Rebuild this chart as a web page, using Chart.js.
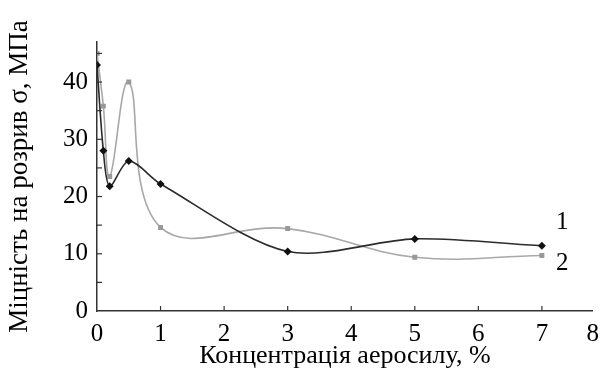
<!DOCTYPE html>
<html>
<head>
<meta charset="utf-8">
<script src="https://cdn.jsdelivr.net/npm/chart.js@4/dist/chart.umd.min.js"></script>
<style>
  html, body { margin: 0; padding: 0; background: #fff; }
</style>
</head>
<body>
<canvas id="chart" width="607" height="374"></canvas>
<script>
// concentration of aerosil, %
const conc = [0, 0.1, 0.2, 0.5, 1, 3, 5, 7];
// tensile strength, MPa
const series1 = [43, 28, 21.8, 26.2, 22.2, 10.4, 12.6, 11.4];
const series2 = [45, 35.8, 23.5, 40, 14.6, 14.4, 9.4, 9.7];
const seriesNames = ["1", "2"];
const xTicks = [0, 1, 2, 3, 4, 5, 6, 7, 8];
const yTicks = [0, 10, 20, 30, 40];

const FONT = "'Liberation Serif', 'Times New Roman', serif";
const X_MAX = 7.8; // axis is cut just before 8

function pts(ys){
    return conc.map(function(x, i){ return {x: x, y: ys[i]}; });
}

// inward tick marks and curve numbers
const extras = {
    id: "extras",
    afterDraw: function(chart){
        const c = chart.ctx;
        const xs = chart.scales.x;
        const ys = chart.scales.y;
        const area = chart.chartArea;
        c.save();
        c.strokeStyle = "#333";
        c.lineWidth = 1.2;
        xTicks.forEach(function(v){
            if(v <= 0 || v > X_MAX){ return; }
            const px = xs.getPixelForValue(v);
            c.beginPath();
            c.moveTo(px, area.bottom);
            c.lineTo(px, area.bottom - 5);
            c.stroke();
        });
        for(let v = 5; v <= 45; v += 5){
            const py = ys.getPixelForValue(v);
            c.beginPath();
            c.moveTo(area.left, py);
            c.lineTo(area.left + 5, py);
            c.stroke();
        }
        c.fillStyle = "#000";
        c.font = "25px " + FONT;
        c.textAlign = "left";
        c.textBaseline = "middle";
        const offs = [[14, -23], [14, 8]];
        chart.data.datasets.forEach(function(ds, i){
            const meta = chart.getDatasetMeta(i);
            const last = meta.data[meta.data.length - 1];
            c.fillText(seriesNames[i], last.x + offs[i][0], last.y + offs[i][1]);
        });
        c.restore();
    }
};

new Chart(
    document.getElementById("chart").getContext("2d"),
    {
        type: "line",
        data: {
            datasets: [
                {
                    label: seriesNames[0],
                    data: pts(series1),
                    borderColor: "#2b2b2b",
                    backgroundColor: "#111",
                    borderWidth: 1.6,
                    pointStyle: "rectRot",
                    pointRadius: 4,
                    pointBorderWidth: 0,
                    tension: 0.3
                },
                {
                    label: seriesNames[1],
                    data: pts(series2),
                    borderColor: "#a8a8a8",
                    backgroundColor: "#999",
                    borderWidth: 1.6,
                    pointStyle: "rect",
                    pointRadius: 3.5,
                    pointBorderWidth: 0,
                    tension: 0.4
                }
            ]
        },
        options: {
            responsive: false,
            animation: false,
            layout: { padding: { left: 0, right: 10, top: 42, bottom: 0 } },
            plugins: {
                legend: { display: false },
                tooltip: { enabled: false }
            },
            scales: {
                x: {
                    type: "linear",
                    min: 0,
                    max: X_MAX,
                    afterFit: function(s){ s.height = 63; },
                    afterBuildTicks: function(s){
                        s.ticks = xTicks.map(function(v){ return {value: Math.min(v, X_MAX), label: String(v)}; });
                    },
                    ticks: {
                        color: "#000",
                        font: { family: FONT, size: 25 },
                        padding: 8,
                        maxRotation: 0,
                        callback: function(v, i){ return String(xTicks[i]); }
                    },
                    grid: { drawOnChartArea: false, drawTicks: false },
                    border: { color: "#333", width: 1.5 },
                    title: {
                        display: true,
                        text: "Концентрація аеросилу, %",
                        color: "#000",
                        font: { family: FONT, size: 26 },
                        padding: { top: 0, bottom: 2 }
                    }
                },
                y: {
                    min: 0,
                    max: 47,
                    afterFit: function(s){ s.width = 97; },
                    afterBuildTicks: function(s){
                        s.ticks = yTicks.map(function(v){ return {value: v}; });
                    },
                    ticks: {
                        color: "#000",
                        font: { family: FONT, size: 25 },
                        padding: 9
                    },
                    grid: { drawOnChartArea: false, drawTicks: false },
                    border: { color: "#333", width: 1.5 },
                    title: {
                        display: true,
                        text: "Міцність на розрив σ, МПа",
                        color: "#000",
                        font: { family: FONT, size: 27 },
                        padding: { top: 4, bottom: 0 }
                    }
                }
            }
        },
        plugins: [extras]
    }
);
</script>
</body>
</html>
